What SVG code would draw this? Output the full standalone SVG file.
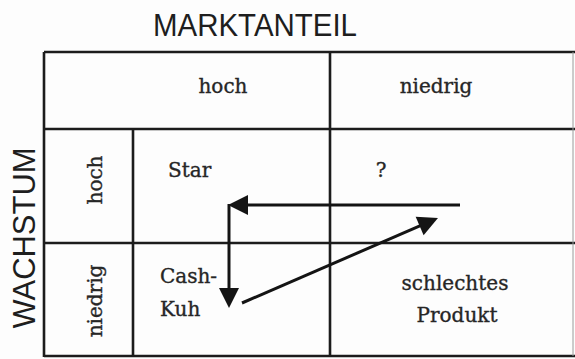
<svg xmlns="http://www.w3.org/2000/svg" width="575" height="359" viewBox="0 0 575 359">
  <style>
    .grid { stroke: #1c1c1c; stroke-width: 2.6; fill: none; }
    .faint { stroke: #9a9a9a; stroke-width: 1; fill: none; }
    .lbl { font-family: "DejaVu Serif", "Liberation Serif", serif; font-size: 20px; fill: #262626; stroke: #262626; stroke-width: 0.35; }
    .axis { font-family: "Liberation Sans", "DejaVu Sans", sans-serif; fill: #1e1e1e; }
    .conn { stroke: #141414; stroke-width: 3; fill: none; }
  </style>
  <defs>
    <marker id="head" markerUnits="userSpaceOnUse" markerWidth="20" markerHeight="20" refX="4" refY="10" orient="auto" overflow="visible">
      <path d="M0,0 L20,10 L0,20 z" fill="#141414"/>
    </marker>
  </defs>
  <rect x="0" y="0" width="575" height="359" fill="#fdfdfd"/>

  <g id="title-marktanteil">
    <text class="axis" x="153" y="36" font-size="31" textLength="204" lengthAdjust="spacingAndGlyphs">MARKTANTEIL</text>
  </g>
  <g id="title-wachstum">
    <text class="axis" font-size="32" text-anchor="middle" textLength="181" lengthAdjust="spacingAndGlyphs" transform="translate(35,238) rotate(-90)">WACHSTUM</text>
  </g>

  <g id="grid">
    <line class="grid" x1="44" y1="52" x2="575" y2="52"/>
    <line class="grid" x1="44" y1="129" x2="575" y2="129"/>
    <line class="grid" x1="44" y1="243" x2="575" y2="243"/>
    <line class="grid" x1="44" y1="356" x2="575" y2="356"/>
    <line class="grid" x1="44" y1="52" x2="44" y2="357"/>
    <line class="grid" x1="133" y1="129" x2="133" y2="357"/>
    <line class="grid" x1="330" y1="52" x2="330" y2="357"/>
    <line class="faint" x1="573" y1="52" x2="573" y2="356"/>
  </g>

  <g id="col-hoch"><text class="lbl" x="223" y="93" text-anchor="middle">hoch</text></g>
  <g id="col-niedrig"><text class="lbl" x="436" y="93" text-anchor="middle">niedrig</text></g>
  <g id="row-hoch"><text class="lbl" text-anchor="middle" transform="translate(102,180) rotate(-90)">hoch</text></g>
  <g id="row-niedrig"><text class="lbl" text-anchor="middle" transform="translate(102,301) rotate(-90)">niedrig</text></g>

  <g id="star"><text class="lbl" x="168" y="177">Star</text></g>
  <g id="question"><text class="lbl" x="381" y="177" text-anchor="middle" font-size="16">?</text></g>
  <g id="cashkuh">
    <text class="lbl" x="160" y="283">Cash-</text>
    <text class="lbl" x="160" y="316">Kuh</text>
  </g>
  <g id="schlechtes-produkt">
    <text class="lbl" x="455" y="290" text-anchor="middle">schlechtes</text>
    <text class="lbl" x="457" y="322" text-anchor="middle">Produkt</text>
  </g>

  <g id="connectors">
    <line class="conn" x1="460" y1="205" x2="244" y2="205" marker-end="url(#head)"/>
    <line class="conn" x1="229" y1="204" x2="229" y2="292" marker-end="url(#head)"/>
    <line class="conn" x1="242" y1="303" x2="423.3" y2="224.4" marker-end="url(#head)"/>
  </g>
</svg>
